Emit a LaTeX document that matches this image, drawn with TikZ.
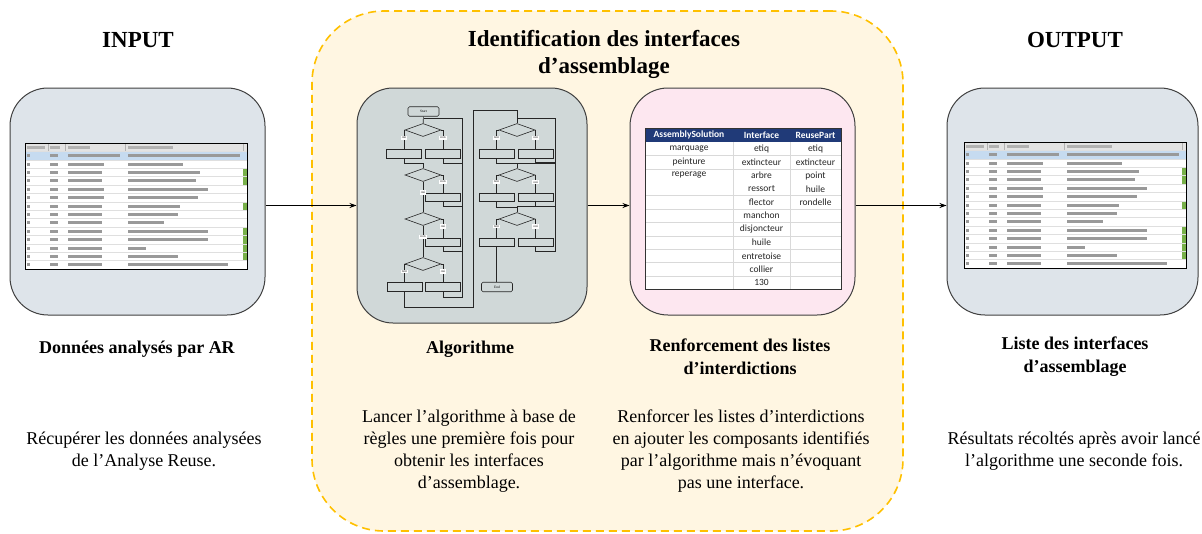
\documentclass[tikz,border=0pt]{standalone}
\usepackage{fontspec}
\setmainfont{Liberation Serif}
\newfontfamily\tabfont{Carlito}
\usetikzlibrary{shapes.geometric,arrows.meta}

\definecolor{boxgrey}{HTML}{DEE4EA}
\definecolor{algogrey}{HTML}{D0D8D8}
\definecolor{boxpink}{HTML}{FDE7F0}
\definecolor{dashorange}{HTML}{FFC000}
\definecolor{cream}{HTML}{FFF6E2}
\definecolor{navy}{HTML}{203A78}
\definecolor{rowblue}{HTML}{C6DBF0}
\definecolor{cellgreen}{HTML}{78B04A}

% spreadsheet thumbnail, #1 = top left corner
\newcommand{\drawsheet}[1]{%
  \begin{scope}[shift={#1}]
    \fill[white] (0,0) rectangle (222,126);
    \fill[gray!22] (0,0) rectangle (222,8.4);
    \fill[rowblue] (0,8.4) rectangle (222,16.8);
    \foreach \r in {3,4,7,10,11,12,13}
      \fill[cellgreen] (218,\r*8.4) rectangle (222,\r*8.4+8.4);
    \foreach \r in {1,...,14}
      \draw[gray!25,line width=0.3pt] (0,\r*8.4) -- (222,\r*8.4);
    \foreach \x in {23,40,100,218}
      \draw[gray!60,line width=0.4pt] (\x,0) -- (\x,8.4);
    % blurred text
    \fill[gray!60] (2,2.8) rectangle +(18,3);
    \fill[gray!60] (25,2.8) rectangle +(10,3);
    \fill[gray!60] (43,2.8) rectangle +(22,3);
    \fill[gray!60] (103,2.8) rectangle +(45,3);
    \foreach \a/\b [count=\k] in {52/112,36/55,34/72,34/68,36/80,36/70,34/52,34/50,34/36,34/80,34/80,34/18,34/50,34/100}{
      \fill[gray!80] (2,\k*8.4+2.8) rectangle +(3,3);
      \fill[gray!80] (25,\k*8.4+2.8) rectangle +(8,3);
      \fill[gray!80] (43,\k*8.4+2.8) rectangle +(\a,3);
      \fill[gray!80] (103,\k*8.4+2.8) rectangle +(\b,3);
    }
    \draw[black,line width=0.8pt] (0,0) rectangle (222,126);
  \end{scope}}

\begin{document}
\begin{tikzpicture}[x=1pt,y=-1pt,
    title/.style={font=\bfseries\fontsize{23}{27}\selectfont,align=center},
    sub/.style={font=\bfseries\fontsize{18}{23}\selectfont,align=center},
    body/.style={font=\fontsize{18}{22}\selectfont,align=center},
    panel/.style={draw=black!75,line width=1pt,rounded corners=38pt},
    conn/.style={-{Stealth[length=7pt,width=5pt]},line width=0.9pt},
    fcline/.style={line width=0.6pt,black!85},
    fcbox/.style={draw=black!85,line width=0.6pt,inner sep=0pt,minimum width=35pt,minimum height=8.5pt,
                  font=\fontsize{2.5}{3}\selectfont,text=black!60},
    fcdia/.style={diamond,draw=black!85,line width=0.6pt,inner sep=0pt,minimum width=36pt,minimum height=13pt},
    fcterm/.style={draw=black!85,line width=0.6pt,rounded corners=1.5pt,inner sep=0pt,minimum width=31pt,minimum height=9.5pt,font=\fontsize{3.5}{4}\selectfont},
    fctag/.style={fill=white,inner sep=1pt,font=\fontsize{3.5}{4}\selectfont},
    thead/.style={text=white,font=\tabfont\bfseries\fontsize{9.5}{10}\selectfont},
    tcell/.style={text=black!85,font=\tabfont\fontsize{9.5}{10}\selectfont}]
  \useasboundingbox (0,0) rectangle (1202,533);

  % dashed frame
  \node[draw=dashorange,fill=cream,line width=1.6pt,dash pattern=on 8pt off 5pt,
        rounded corners=72pt,minimum width=591pt,minimum height=520pt] (ident) at (607.5,271) {};

  % panels
  \node[panel,fill=boxgrey,minimum width=255pt,minimum height=227pt] (input) at (137.5,201.5) {};
  \node[panel,fill=algogrey,rounded corners=36pt,minimum width=230pt,minimum height=235pt] (algo) at (472,205.5) {};
  \node[panel,fill=boxpink,minimum width=225pt,minimum height=227pt] (renfo) at (742.5,201.5) {};
  \node[panel,fill=boxgrey,minimum width=251pt,minimum height=227pt] (output) at (1072.5,201.5) {};

  % arrows
  \draw[conn] (input.east |- algo.west) -- (algo.west);
  \draw[conn] (algo.east) -- (renfo.west |- algo.east);
  \draw[conn] (renfo.east |- algo.east) -- (output.west |- algo.east);

  % spreadsheets
  \drawsheet{(25,143)}
  \drawsheet{(964,142)}

  % flowchart, left column
  \node[fcterm] (start) at (423.5,111.5) {Start};
  \node[fcdia] (d1) at (423,130) {};
  \node[fcbox] (b1a) at (404,154) {};
  \node[fcbox] (b1b) at (443,154) {};
  \node[fcdia] (d2) at (423,175) {};
  \node[fcbox] (b2b) at (443,197.5) {};
  \node[fcdia] (d3) at (423,219) {};
  \node[fcbox] (b3b) at (443,242.5) {};
  \node[fcdia] (d4) at (423,264) {};
  \node[fcbox] (b4a) at (404.5,287) {};
  \node[fcbox] (b4b) at (443,287) {};
  \coordinate (lpT) at (462,118);
  \coordinate (lpB) at (462,297);
  \coordinate (crB) at (473,307);
  \coordinate (crT) at (473,110);
  \draw[fcline] (start) -- (d1);
  \draw[fcline] (lpB) -- (lpT) -- (start.south |- lpT);
  \draw[fcline] (d1.west) -| node[fctag,pos=0.7] (o1) {oui} (b1a.north);
  \draw[fcline] (d1.east) -| node[fctag,pos=0.7] (n1) {non} (b1b.north);
  \draw[fcline] (b1a.south) -- ++(0,5) -| (d2.north);
  \draw[fcline] (b1b.south) -- ++(0,5) -| (lpB);
  \draw[fcline] (d2.south) -- node[fctag,pos=0.35] (o2) {oui} (d3.north);
  \draw[fcline] (d2.east) -| node[fctag,pos=0.7] (n2) {non} (b2b.north);
  \draw[fcline] (b2b.south) -- ++(0,4) -| (lpB);
  \draw[fcline] (d3.south) -- node[fctag,pos=0.35] (n3) {non} (d4.north);
  \draw[fcline] (d3.east) -| node[fctag,pos=0.7] (o3) {oui} (b3b.north);
  \draw[fcline] (b3b.south) -- ++(0,4) -| (lpB);
  \draw[fcline] (d4.west) -| node[fctag,pos=0.7] (n4) {non} (b4a.north);
  \draw[fcline] (d4.east) -| node[fctag,pos=0.7] (o4) {oui} (b4b.north);
  \draw[fcline] (b4b.south) -- ++(0,5.5) -| (lpB);

  % flowchart, right column
  \node[fcdia] (d5) at (517,130) {};
  \node[fcbox] (b5a) at (496.5,154) {};
  \node[fcbox] (b5b) at (535.5,154) {};
  \node[fcdia] (d6) at (517,175) {};
  \node[fcbox] (b6a) at (496.5,197.5) {};
  \node[fcbox] (b6b) at (535.5,197.5) {};
  \node[fcdia] (d7) at (517,219) {};
  \node[fcbox] (b7a) at (496.5,242.5) {};
  \node[fcbox] (b7b) at (535.5,242.5) {};
  \node[fcterm] (end) at (497,287) {End};
  \coordinate (rl1) at (555,118);
  \coordinate (rl2) at (555,163);
  \coordinate (rl3) at (555,206.5);
  \draw[fcline] (b4a.south) |- (crB) -- (crT) -| (d5.north);
  \draw[fcline] (d5.west) -| node[fctag,pos=0.7] (n5) {non} (b5a.north);
  \draw[fcline] (d5.east) -| node[fctag,pos=0.7] (o5) {oui} (b5b.north);
  \draw[fcline] (b5b.south) -- ++(0,4) -| (rl1) -- (d5.north |- rl1);
  \draw[fcline] (b5a.south) -- ++(0,5) -| (d6.north);
  \draw[fcline] (d6.west) -| node[fctag,pos=0.7] (n6) {non} (b6a.north);
  \draw[fcline] (d6.east) -| node[fctag,pos=0.7] (o6) {oui} (b6b.north);
  \draw[fcline] (b6b.south) -- ++(0,4) -| (rl2) -- (d6.north |- rl2);
  \draw[fcline] (b6a.south) -- ++(0,5) -| (d7.north);
  \draw[fcline] (d7.west) -| node[fctag,pos=0.7] (n7) {non} (b7a.north);
  \draw[fcline] (d7.east) -| node[fctag,pos=0.7] (o7) {oui} (b7b.north);
  \draw[fcline] (b7b.south) -- ++(0,4) -| (rl3) -- (d7.north |- rl3);
  \draw[fcline] (b7a.south) -- (b7a.south |- end.north);

  % table
  \fill[navy] (645,128) rectangle (841,142);
  \fill[white] (645,142) rectangle (841,289.4);
  \foreach \y in {155.4,168.8,195.6,209,222.4,235.8,249.2,262.6,276}
    \draw[gray!30,line width=0.5pt] (645,\y) -- (841,\y);
  \foreach \x in {733,790}
    \draw[gray!30,line width=0.5pt] (\x,142) -- (\x,289.4);
  \draw[black!80,line width=0.9pt] (645,128) rectangle (841,289.4);
  \node[thead] (h1) at (689,135) {AssemblySolution};
  \node[thead] (h2) at (761.5,135) {Interface};
  \node[thead] (h3) at (815.5,135) {ReusePart};
  \foreach \txt/\x/\y [count=\i] in {marquage/689/148.7,etiq/761.5/148.7,etiq/815.5/148.7,
      peinture/689/162.1,extincteur/761.5/162.1,extincteur/815.5/162.1,
      reperage/689/175.5,arbre/761.5/175.5,point/815.5/175.5,
      ressort/761.5/189,huile/815.5/189,
      flector/761.5/202.3,rondelle/815.5/202.3,
      manchon/761.5/215.7,disjoncteur/761.5/229.1,huile/761.5/242.5,
      entretoise/761.5/255.9,collier/761.5/269.3,130/761.5/282.7}
    \node[tcell] (c\i) at (\x,\y) {\txt};

  % text
  \node[title] (tin) at (138,40) {INPUT};
  \node[title] (tid) at (604,54) {Identification des interfaces\\d'assemblage};
  \node[title] (tout) at (1075,40) {OUTPUT};
  \node[sub] (lin) at (137,349) {Données analysés par AR};
  \node[sub] (lalgo) at (470,349) {Algorithme};
  \node[sub] (lrenfo) at (740,357) {Renforcement des listes\\d'interdictions};
  \node[sub] (lout) at (1075,357) {Liste des interfaces\\d'assemblage};
  \node[body] (din) at (144,451) {Récupérer les données analysées\\de l'Analyse Reuse.};
  \node[body] (dalgo) at (469,451) {Lancer l'algorithme à base de\\règles une première fois pour\\obtenir les interfaces\\d'assemblage.};
  \node[body] (drenfo) at (741,451) {Renforcer les listes d'interdictions\\en ajouter les composants identifiés\\par l'algorithme mais n'évoquant\\pas une interface.};
  \node[body] (dout) at (1074,451) {Résultats récoltés après avoir lancé\\l'algorithme une seconde fois.};
\end{tikzpicture}
\end{document}
